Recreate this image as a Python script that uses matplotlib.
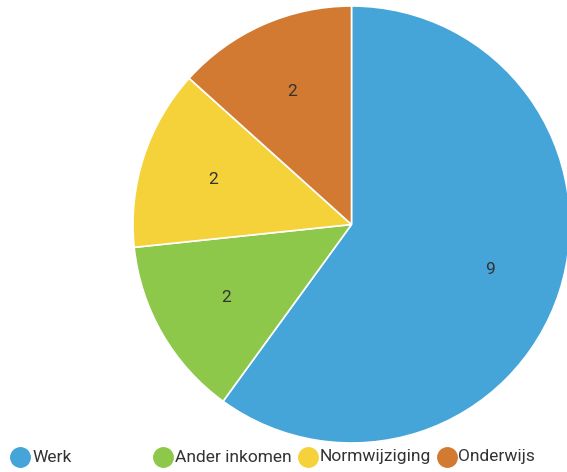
import matplotlib
matplotlib.use("Agg")
import matplotlib.pyplot as plt
from matplotlib.lines import Line2D

categories = ["Werk", "Ander inkomen", "Normwijziging", "Onderwijs"]
values = [9, 2, 2, 2]
colors = ["#45A5D9", "#8DC84B", "#F5D13A", "#D27A32"]

W, H = 567, 472
fig = plt.figure(figsize=(W / 100, H / 100), dpi=100)
fig.patch.set_facecolor("white")

cx, cy, r = 351.5, 224.5, 218.5
ax = fig.add_axes([(cx - r) / W, (H - cy - r) / H, 2 * r / W, 2 * r / H])
ax.set_xlim(-1, 1)
ax.set_ylim(-1, 1)
ax.axis("off")

wedges, texts = ax.pie(values, colors=colors, startangle=90, counterclock=False,
                       labels=[str(v) for v in values], labeldistance=0.665,
                       wedgeprops=dict(edgecolor="white", linewidth=1.2),
                       textprops=dict(color="#333333", fontsize=12.5, family="Roboto",
                                      ha="center", va="center"),
                       radius=1, frame=False)
ax.set_xlim(-1, 1)
ax.set_ylim(-1, 1)
ax.set_aspect("auto")

# legend (manual placement to match irregular spacing)
marker_x = [19.5, 163, 308, 447]
text_x = [32, 175, 320, 458]
ly = 457
for i, cat in enumerate(categories):
    fig.add_artist(Line2D([marker_x[i] / W], [1 - ly / H], marker="o", markersize=14,
                          markerfacecolor=colors[i], markeredgecolor=colors[i],
                          linestyle="none", transform=fig.transFigure))
    fig.text(text_x[i] / W, 1 - ly / H, cat, fontsize=12.5, family="Roboto",
             color="#333333", ha="left", va="center")

fig.savefig("out.png", dpi=100, facecolor="white")
